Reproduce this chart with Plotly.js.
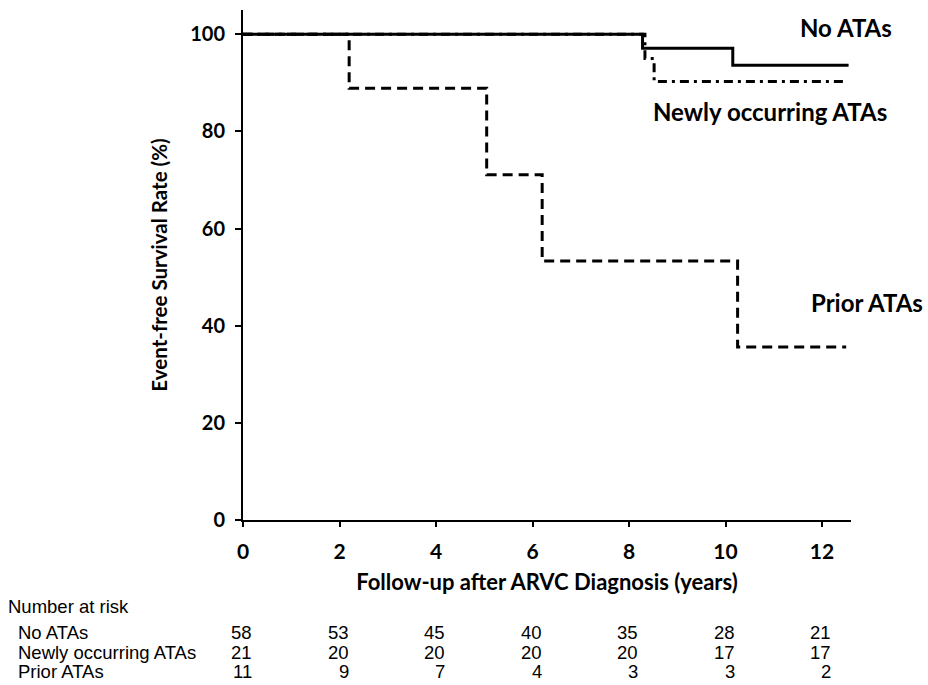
<!DOCTYPE html>
<html><head><meta charset="utf-8">
<script src="https://cdn.plot.ly/plotly-3.0.1.min.js"></script>
<style>body{margin:0;background:#fff}#chart{width:928px;height:685px}</style>
</head><body><div id="chart"></div>
<script>
// Kaplan-Meier step data (years, %)
const noAtasX = [0, 8.28, 10.15, 12.55];
const noAtasY = [100, 97.1, 93.6, 93.6];
const newlyX = [0, 8.33, 8.52, 12.52];
const newlyY = [100, 95.0, 90.3, 90.3];
const priorX = [0, 2.2, 5.05, 6.2, 10.25, 12.5];
const priorY = [100, 88.9, 71.1, 53.3, 35.6, 35.6];

const riskTimes = [0, 2, 4, 6, 8, 10, 12];
const riskGroups = ["No ATAs", "Newly occurring ATAs", "Prior ATAs"];
const riskNoAtas = [58, 53, 45, 40, 35, 28, 21];
const riskNewly = [21, 20, 20, 20, 20, 17, 17];
const riskPrior = [11, 9, 7, 4, 3, 3, 2];

const xTicks = [0, 2, 4, 6, 8, 10, 12];
const yTicks = [0, 20, 40, 60, 80, 100];

const boldFont = "Lato, 'Open Sans', sans-serif";
const tableFont = "'Liberation Sans', Arial, sans-serif";

const traces = [
  {x: noAtasX, y: noAtasY, mode: 'lines', line: {shape: 'hv', color: '#000', width: 3}, name: 'No ATAs'},
  {x: newlyX, y: newlyY, mode: 'lines', line: {shape: 'hv', color: '#000', width: 3, dash: '9px,5px,3px,5px'}, name: 'Newly occurring ATAs'},
  {x: priorX, y: priorY, mode: 'lines', line: {shape: 'hv', color: '#000', width: 3, dash: '10px,6px'}, name: 'Prior ATAs'}
];

const labelFont = {family: boldFont, size: 24, color: '#000'};
const annotations = [
  {xref: 'paper', yref: 'paper', x: 0.992, y: 0.965, text: '<b>No ATAs</b>', showarrow: false, xanchor: 'center', yanchor: 'middle', font: labelFont},
  {xref: 'paper', yref: 'paper', x: 0.867, y: 0.80, text: '<b>Newly occurring ATAs</b>', showarrow: false, xanchor: 'center', yanchor: 'middle', font: labelFont},
  {xref: 'paper', yref: 'paper', x: 1.026, y: 0.427, text: '<b>Prior ATAs</b>', showarrow: false, xanchor: 'center', yanchor: 'middle', font: labelFont},
  {xref: 'paper', yref: 'paper', x: -0.39, y: -0.17, text: 'Number at risk', showarrow: false, xanchor: 'left', yanchor: 'middle', font: {family: tableFont, size: 18.5, color: '#000'}}
];
const riskRows = [riskNoAtas, riskNewly, riskPrior];
const rowY = [-0.22, -0.259, -0.298];
riskGroups.forEach((g, i) => {
  annotations.push({xref: 'paper', yref: 'paper', x: -0.373, y: rowY[i], text: g, showarrow: false, xanchor: 'left', yanchor: 'middle', font: {family: tableFont, size: 18.5, color: '#000'}});
  riskTimes.forEach((t, j) => {
    annotations.push({xref: 'x', yref: 'paper', x: t, xshift: 11, y: rowY[i], text: String(riskRows[i][j]), showarrow: false, xanchor: 'right', yanchor: 'middle', font: {family: tableFont, size: 18.5, color: '#000'}});
  });
});

const layout = {
  width: 928, height: 685,
  margin: {l: 243, r: 77, t: 10, b: 165},
  paper_bgcolor: '#fff', plot_bgcolor: '#fff',
  showlegend: false,
  xaxis: {
    range: [0, 12.6], tickvals: xTicks, ticktext: xTicks.map(v => '<b>' + v + '</b>'),
    showline: true, linecolor: '#000', linewidth: 2, ticks: 'outside', tickcolor: '#000', ticklen: 5, tickwidth: 2,
    showgrid: false, zeroline: false, ticklabelstandoff: 7,
    tickfont: {family: boldFont, size: 21, color: '#000'},
    title: {text: '<b>Follow-up after ARVC Diagnosis (years)</b>', font: {family: boldFont, size: 22, color: '#000'}, standoff: 12}
  },
  yaxis: {
    range: [0, 105], tickvals: yTicks, ticktext: yTicks.map(v => '<b>' + v + '</b>'),
    showline: true, linecolor: '#000', linewidth: 2, ticks: 'outside', tickcolor: '#000', ticklen: 6, tickwidth: 2,
    showgrid: false, zeroline: false, ticklabelstandoff: 6,
    tickfont: {family: boldFont, size: 20, color: '#000'},
    title: {text: '<b>Event-free Survival Rate (%)</b>', font: {family: boldFont, size: 20.5, color: '#000'}, standoff: 17}
  },
  annotations: annotations
};

Plotly.newPlot('chart', traces, layout, {displayModeBar: false, staticPlot: true});
</script>
</body></html>
